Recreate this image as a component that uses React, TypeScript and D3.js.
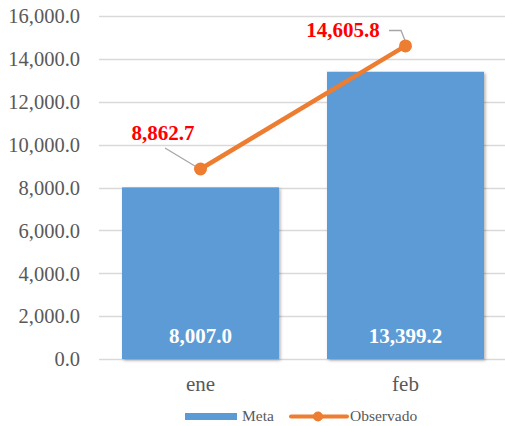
import * as d3 from 'd3'

const months = ['ene', 'feb']
const meta = [8007.0, 13399.2]
const observado = [8862.7, 14605.8]
const yTicks = [0, 2000, 4000, 6000, 8000, 10000, 12000, 14000, 16000]

const W = 505
const H = 426
const FONT = 'Liberation Serif'

export default function App() {
  const fmt = d3.format(',.1f')
  const x = d3.scaleBand<string>().domain(months).range([98, 508]).paddingInner(0.23).paddingOuter(0.115)
  const y = d3.scaleLinear().domain([0, 16000]).range([359, 16])
  const cx = (m: string) => x(m)! + x.bandwidth() / 2
  const bw = 157

  const pts = months.map((m, i) => [cx(m), y(observado[i])] as [number, number])
  // label anchors for the Observado values (Excel-style leader lines)
  const lblPos = [
    [163, 140],
    [343, 37],
  ]

  return (
    <svg width={W} height={H} style={{ position: 'absolute', left: 0, top: 0, background: '#fff' }}>
      <defs>
        <filter id="sh" x="-10%" y="-10%" width="130%" height="130%">
          <feDropShadow dx={1.5} dy={1.5} stdDeviation={1.5} floodColor="#000" floodOpacity={0.3} />
        </filter>
      </defs>

      {/* gridlines */}
      {yTicks.map((t) => (
        <line
          key={t}
          x1={99}
          x2={W}
          y1={Math.round(y(t)) + 0.5}
          y2={Math.round(y(t)) + 0.5}
          stroke="#d9d9d9"
          strokeWidth={1.3}
        />
      ))}

      {/* y labels */}
      {yTicks.map((t) => (
        <text key={t} x={80} y={y(t) + 7.3} textAnchor="end" fontSize={20.5} fill="#595959" fontFamily={FONT}>
          {fmt(t)}
        </text>
      ))}

      {/* bars */}
      {months.map((m, i) => (
        <rect
          key={m}
          x={cx(m) - bw / 2}
          y={y(meta[i])}
          width={bw}
          height={y(0) - y(meta[i])}
          fill="#5b9bd5"
          filter="url(#sh)"
        />
      ))}
      {months.map((m, i) => (
        <text key={m} x={cx(m)} y={343} textAnchor="middle" fontSize={21} fontWeight="bold" fill="#fff" fontFamily={FONT}>
          {fmt(meta[i])}
        </text>
      ))}

      {/* x labels */}
      {months.map((m) => (
        <text key={m} x={cx(m)} y={391} textAnchor="middle" fontSize={21} fill="#595959" fontFamily={FONT}>
          {m}
        </text>
      ))}

      {/* leader lines */}
      <path d={`M165,148 L${pts[0][0] - 4},${pts[0][1] - 2}`} stroke="#a6a6a6" strokeWidth={1.3} fill="none" />
      <path
        d={`M389,30.5 L401,30.5 L${pts[1][0] + 0.5},${pts[1][1] - 3}`}
        stroke="#a6a6a6"
        strokeWidth={1.3}
        fill="none"
      />

      {/* line */}
      <path d={d3.line()(pts)!} stroke="#ed7d31" strokeWidth={4.5} strokeLinecap="round" fill="none" />
      {pts.map((p, i) => (
        <circle key={i} cx={p[0]} cy={p[1]} r={6.5} fill="#ed7d31" />
      ))}

      {observado.map((v, i) => (
        <text
          key={i}
          x={lblPos[i][0]}
          y={lblPos[i][1]}
          textAnchor="middle"
          fontSize={21}
          fontWeight="bold"
          fill="#ff0000"
          fontFamily={FONT}
        >
          {fmt(v)}
        </text>
      ))}

      {/* legend */}
      <rect x={185} y={413} width={52} height={7} fill="#5b9bd5" />
      <text x={242} y={420.5} fontSize={15.5} fill="#595959" fontFamily={FONT}>
        Meta
      </text>
      <line x1={291} x2={347} y1={416.5} y2={416.5} stroke="#ed7d31" strokeWidth={4} strokeLinecap="round" />
      <circle cx={318} cy={416.5} r={5} fill="#ed7d31" />
      <text x={350} y={420.5} fontSize={15.5} fill="#595959" fontFamily={FONT}>
        Observado
      </text>
    </svg>
  )
}
